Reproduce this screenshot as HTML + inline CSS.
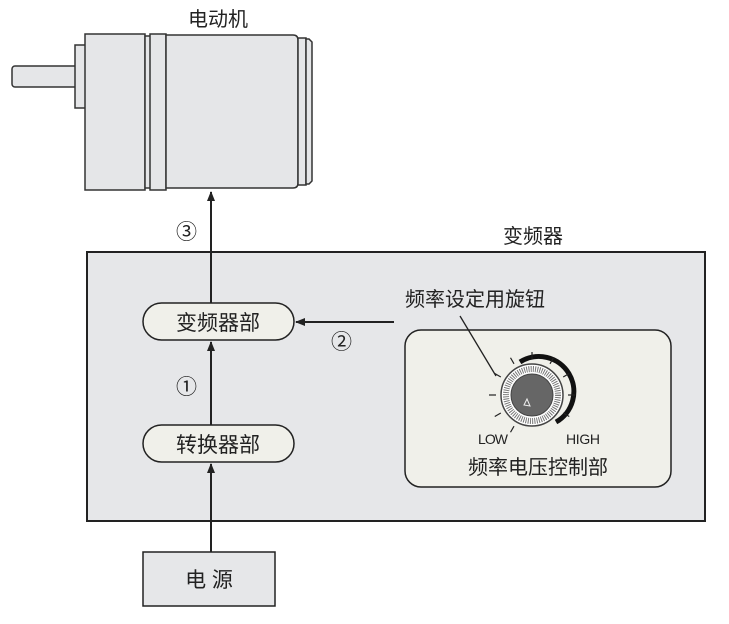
<!DOCTYPE html>
<html><head><meta charset="utf-8"><style>
body{margin:0;background:#fff;}
text{font-family:"Liberation Sans","Noto Sans CJK SC",sans-serif;fill:#222;}
</style></head><body>
<svg width="729" height="619" viewBox="0 0 729 619" xmlns="http://www.w3.org/2000/svg">
<defs><marker id="a" markerWidth="10" markerHeight="10" refX="9" refY="5" orient="auto" markerUnits="userSpaceOnUse"><path d="M0,1 L10,5 L0,9 Z" fill="#222"/></marker></defs>
<g stroke="#333" stroke-width="1.5" fill="#e5e6e8">
<rect x="12" y="66" width="66" height="21" rx="3"/>
<rect x="75" y="45" width="12" height="63"/>
<rect x="85" y="34" width="60" height="156"/>
<rect x="145" y="36" width="6" height="152"/>
<rect x="150" y="34" width="16" height="156"/>
<path d="M166,35 H293 Q298,35 298,40 V183 Q298,188 293,188 H166 Z"/>
<rect x="298" y="38" width="8" height="147"/>
<path d="M306,39 H309 L312,42 V181 L309,184 H306 Z"/>
</g>
<text x="188" y="26" font-size="20">电动机</text>
<rect x="87" y="252" width="618" height="269" fill="#e6e7e9" stroke="#222" stroke-width="2"/>
<text x="503" y="243" font-size="20">变频器</text>
<line x1="211" y1="303" x2="211" y2="192" stroke="#222" stroke-width="2" marker-end="url(#a)"/>
<text x="176" y="239" font-size="21">③</text>
<line x1="211" y1="425" x2="211" y2="342" stroke="#222" stroke-width="2" marker-end="url(#a)"/>
<text x="176" y="394" font-size="21">①</text>
<line x1="211" y1="552" x2="211" y2="464" stroke="#222" stroke-width="2" marker-end="url(#a)"/>
<line x1="394" y1="322" x2="296" y2="322" stroke="#222" stroke-width="2" marker-end="url(#a)"/>
<text x="331" y="349" font-size="21">②</text>
<rect x="143" y="303" width="151" height="37" rx="18.5" fill="#f0f0ea" stroke="#222" stroke-width="1.5"/>
<text x="218" y="330" font-size="21" text-anchor="middle">变频器部</text>
<rect x="143" y="425" width="151" height="37" rx="18.5" fill="#f0f0ea" stroke="#222" stroke-width="1.5"/>
<text x="218" y="452" font-size="21" text-anchor="middle">转换器部</text>
<rect x="143" y="552" width="132" height="54" fill="#e6e7e9" stroke="#222" stroke-width="1.5"/>
<text x="209" y="587" font-size="21" text-anchor="middle">电 源</text>
<rect x="405" y="330" width="266" height="157" rx="16" fill="#f0f0ea" stroke="#222" stroke-width="1.5"/>
<text x="405" y="306" font-size="20">频率设定用旋钮</text>
<line x1="460" y1="316" x2="496" y2="376" stroke="#222" stroke-width="1.3"/>
<g transform="translate(532,395)">
<path d="M-12,-33 A35,35 0 1 1 24,27" fill="none" stroke="#111" stroke-width="5"/>
<g stroke="#222" stroke-width="1.2">
<line x1="0" y1="-36" x2="0" y2="-43" transform="rotate(0)"/>
<line x1="0" y1="-36" x2="0" y2="-43" transform="rotate(30)"/>
<line x1="0" y1="-36" x2="0" y2="-43" transform="rotate(60)"/>
<line x1="0" y1="-36" x2="0" y2="-43" transform="rotate(90)"/>
<line x1="0" y1="-36" x2="0" y2="-43" transform="rotate(120)"/>
<line x1="0" y1="-36" x2="0" y2="-43" transform="rotate(-30)"/>
<line x1="0" y1="-36" x2="0" y2="-43" transform="rotate(-60)"/>
<line x1="0" y1="-36" x2="0" y2="-43" transform="rotate(-90)"/>
<line x1="0" y1="-36" x2="0" y2="-43" transform="rotate(-120)"/>
<line x1="0" y1="-36" x2="0" y2="-43" transform="rotate(-150)"/>
</g>
<circle r="31" fill="#fff" stroke="#444" stroke-width="1.5"/>
<circle r="26" fill="none" stroke="#777" stroke-width="6" stroke-dasharray="1 1.2"/>
<circle r="21" fill="#666" stroke="#444"/>
<path d="M-5,4 L-2,11 L-8,10 Z" fill="none" stroke="#eee" stroke-width="1"/>
</g>
<text x="478" y="444" font-size="14" textLength="30">LOW</text>
<text x="566" y="444" font-size="14" textLength="34">HIGH</text>
<text x="538" y="474" font-size="20" text-anchor="middle">频率电压控制部</text>
</svg>
</body></html>
